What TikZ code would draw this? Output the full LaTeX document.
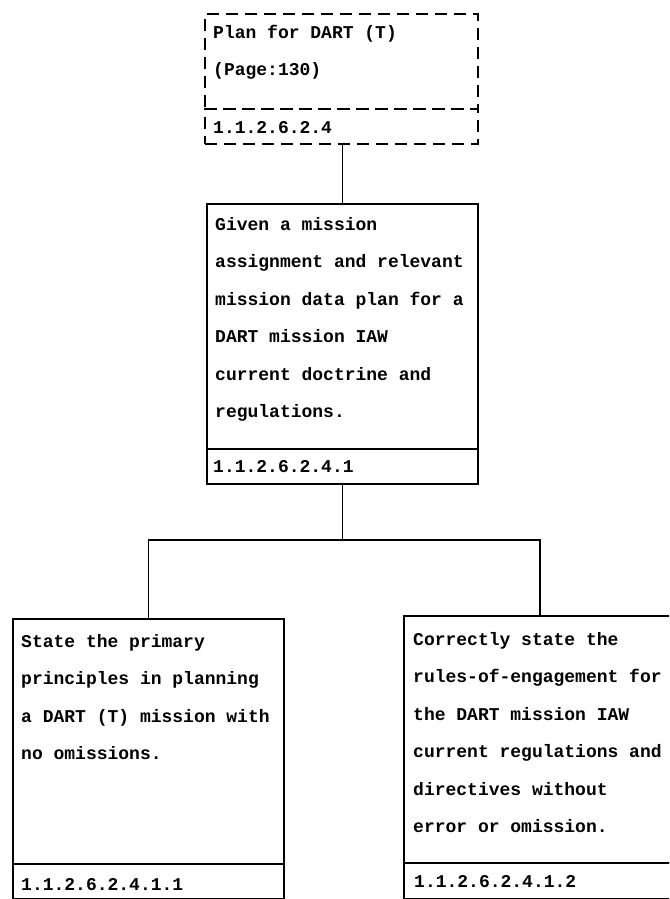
\documentclass[tikz,border=0pt]{standalone}
\usepackage{fontspec}
\setmonofont{Liberation Mono}
\begin{document}
\begin{tikzpicture}[x=1pt,y=-1pt,
  box/.style={draw, line width=2.2pt, rectangle, inner sep=0pt, anchor=north west},
  dbox/.style={box, dash pattern=on 12pt off 7pt},
  txt/.style={anchor=base west, inner sep=0pt, align=left, font=\ttfamily\bfseries\fontsize{18}{37.5}\selectfont},
  link/.style={line width=1.5pt}]
\useasboundingbox (0,0) rectangle (669,899);
\clip (0,0) rectangle (669,899);
\fill[white] (0,0) rectangle (669,899);
% top box
\node[dbox, minimum width=273pt, minimum height=95pt] (top) at (204,13) {};
\node[dbox, minimum width=273pt, minimum height=35pt] (topid) at (204,108) {};
\node[txt] (toptxt) at (213,75.5) {Plan for DART (T)\\(Page:130)};
\node[txt] (topidtxt) at (213,133) {1.1.2.6.2.4};
% middle box
\node[box, minimum width=271pt, minimum height=245pt] (mid) at (206,203) {};
\node[box, minimum width=271pt, minimum height=35pt] (midid) at (206,448) {};
\node[txt] (midtxt) at (215,417.5) {Given a mission\\assignment and relevant\\mission data plan for a\\DART mission IAW\\current doctrine and\\regulations.};
\node[txt] (mididtxt) at (213,472) {1.1.2.6.2.4.1};
% left box
\node[box, minimum width=271pt, minimum height=245pt] (left) at (12,618) {};
\node[box, minimum width=271pt, minimum height=35pt] (leftid) at (12,863) {};
\node[txt] (lefttxt) at (21,759.5) {State the primary\\principles in planning\\a DART (T) mission with\\no omissions.};
\node[txt] (leftidtxt) at (21,890) {1.1.2.6.2.4.1.1};
% right box
\node[box, minimum width=272pt, minimum height=247pt] (right) at (403,615) {};
\node[box, minimum width=272pt, minimum height=36pt] (rightid) at (403,862) {};
\node[txt] (righttxt) at (413,832.5) {Correctly state the\\rules-of-engagement for\\the DART mission IAW\\current regulations and\\directives without\\error or omission.};
\node[txt] (rightidtxt) at (414,887) {1.1.2.6.2.4.1.2};
% connectors
\coordinate (j) at (343,540);
\draw[link] (mid.north |- topid.south) -- (mid.north);
\draw[link] (midid.south) -- (midid.south |- j);
\draw[link] (left.north) -- (left.north |- j) -- (right.north |- j) -- (right.north);
\end{tikzpicture}
\end{document}
